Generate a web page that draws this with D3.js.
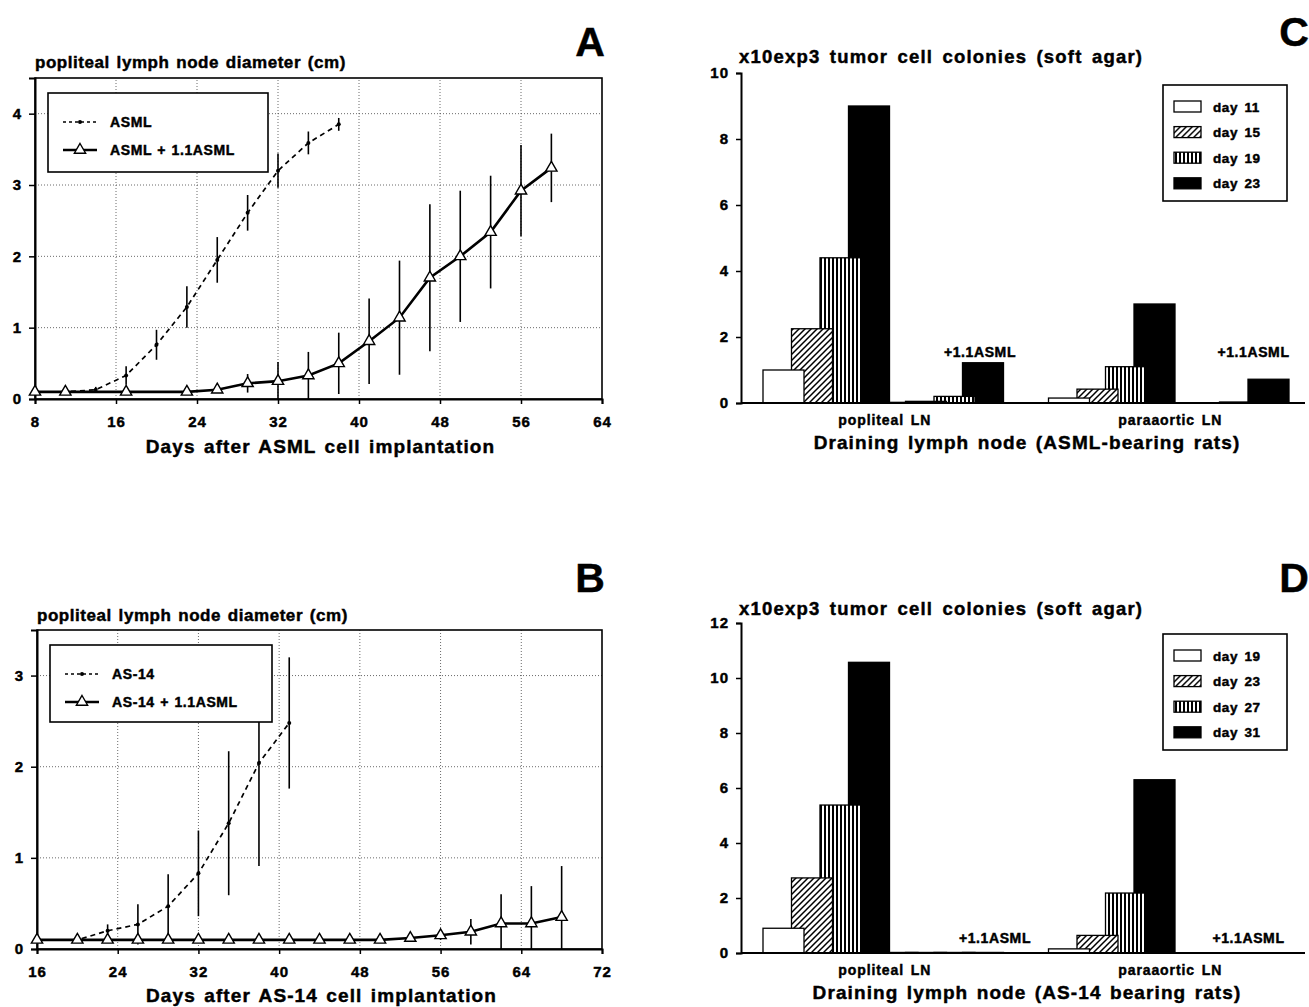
<!DOCTYPE html>
<html lang="en">
<head>
<meta charset="UTF-8">
<title>Lymph node growth and tumor cell colonies</title>
<script src="https://d3js.org/d3.v7.min.js"></script>
<style>
  body { margin: 0; background: #fff; }
  svg text { font-family: "Liberation Sans", Arial, Helvetica, sans-serif; font-weight: bold; fill: #000;
             stroke: #000; stroke-width: 0.45px; }
</style>
</head>
<body>
<div id="chart"></div>
<script>
// ---- panel A: ASML-bearing rats, popliteal node diameter (cm)
const aDays = [8, 11, 14, 17, 20, 23, 26, 29, 32, 35, 38];
const aMean = [0.1, 0.1, 0.13, 0.33, 0.76, 1.29, 1.95, 2.61, 3.2, 3.59, 3.85];
const aErr  = [0, 0, 0.04, 0.13, 0.21, 0.29, 0.32, 0.25, 0.24, 0.16, 0.09];
const aComboDays = [8, 11, 17, 23, 26, 29, 32, 35, 38, 41, 44, 47, 50, 53, 56, 59];
const aComboMean = [0.1, 0.1, 0.1, 0.1, 0.13, 0.22, 0.25, 0.33, 0.5, 0.81, 1.14, 1.7, 2.0, 2.34, 2.92, 3.24];
const aComboErr  = [0, 0, 0, 0, 0.03, 0.13, 0.27, 0.33, 0.43, 0.6, 0.8, 1.03, 0.92, 0.79, 0.64, 0.48];
const aXTicks = [8, 16, 24, 32, 40, 48, 56, 64];
const aYTicks = [0, 1, 2, 3, 4];

// ---- panel B: AS-14-bearing rats
const bDays = [16, 20, 23, 26, 29, 32, 35, 38, 41];
const bMean = [0.1, 0.1, 0.2, 0.27, 0.47, 0.83, 1.38, 2.04, 2.48];
const bErr  = [0, 0, 0.07, 0.22, 0.35, 0.47, 0.79, 1.13, 0.72];
const bComboDays = [16, 20, 23, 26, 29, 32, 35, 38, 41, 44, 47, 50, 53, 56, 59, 62, 65, 68];
const bComboMean = [0.1, 0.1, 0.1, 0.1, 0.1, 0.1, 0.1, 0.1, 0.1, 0.1, 0.1, 0.1, 0.12, 0.15, 0.19, 0.28, 0.28, 0.35];
const bComboErr  = [0, 0, 0, 0, 0, 0, 0, 0, 0, 0, 0, 0, 0.02, 0.05, 0.14, 0.32, 0.41, 0.56];
const bXTicks = [16, 24, 32, 40, 48, 56, 64, 72];
const bYTicks = [0, 1, 2, 3];

// ---- panels C and D: tumor cell colonies (x10^3)
const nodeNames = ["popliteal LN", "paraaortic LN"];
const treatments = ["control", "+1.1ASML"];
const cDays = ["day 11", "day 15", "day 19", "day 23"];
const cPopCtrl  = [1.0, 2.25, 4.4, 9.0];
const cPopAsml  = [0.02, 0.05, 0.2, 1.22];
const cParaCtrl = [0.15, 0.42, 1.1, 3.0];
const cParaAsml = [0, 0.01, 0.03, 0.72];
const cYTicks = [0, 2, 4, 6, 8, 10];

const dDays = ["day 19", "day 23", "day 27", "day 31"];
const dPopCtrl  = [0.9, 2.73, 5.38, 10.57];
const dPopAsml  = [0.02, 0.02, 0.02, 0.02];
const dParaCtrl = [0.15, 0.64, 2.18, 6.3];
const dParaAsml = [0.01, 0.01, 0.01, 0.01];
const dYTicks = [0, 2, 4, 6, 8, 10, 12];

const width = 1309, height = 1007;
const svg = d3.select('#chart').append('svg')
    .attr('width', width)
    .attr('height', height);

// fill patterns
const defs = svg.append('defs');
const hatch = defs.append('pattern').attr('id', 'hatch')
    .attr('patternUnits', 'userSpaceOnUse').attr('width', 6).attr('height', 6);
hatch.append('rect').attr('width', 6).attr('height', 6).attr('fill', '#fff');
hatch.append('path').attr('d', 'M-1,1 L1,-1 M0,6 L6,0 M5,7 L7,5')
    .attr('stroke', '#000').attr('stroke-width', 1.5);
const vstripe = defs.append('pattern').attr('id', 'vstripe')
    .attr('patternUnits', 'userSpaceOnUse').attr('width', 4).attr('height', 4);
vstripe.append('rect').attr('width', 4).attr('height', 4).attr('fill', '#fff');
vstripe.append('rect').attr('width', 2).attr('height', 4).attr('fill', '#000');
const dayFills = ['#fff', 'url(#hatch)', 'url(#vstripe)', '#000'];

function styleAxis(sel) {
    sel.attr('font-size', 15);
    sel.selectAll('.tick text').attr('letter-spacing', 1);
    sel.select('.domain').attr('stroke-width', 2);
    sel.selectAll('.tick line').attr('stroke-width', 1.5);
}

// wide, heavy lettering like the scanned original
function wide(sel, size, ls, ws) {
    return sel.attr('font-size', size).attr('letter-spacing', ls).attr('word-spacing', ws);
}

function drawLinePanel(cfg) {
    const g = svg.append('g');
    const x = d3.scaleLinear().domain(cfg.xDomain).range(cfg.xRange);
    const y = d3.scaleLinear().domain(cfg.yDomain).range(cfg.yRange);

    // dotted grid
    g.append('g').selectAll('line').data(cfg.xTicks.slice(1, -1)).join('line')
        .attr('x1', d => x(d)).attr('x2', d => x(d))
        .attr('y1', y.range()[0]).attr('y2', y.range()[1])
        .attr('stroke', '#444').attr('stroke-width', 0.8).attr('stroke-dasharray', '1,2');
    g.append('g').selectAll('line').data(cfg.yTicks.slice(1)).join('line')
        .attr('x1', x.range()[0]).attr('x2', x.range()[1])
        .attr('y1', d => y(d)).attr('y2', d => y(d))
        .attr('stroke', '#444').attr('stroke-width', 0.8).attr('stroke-dasharray', '1,2');

    g.append('rect')
        .attr('x', x.range()[0]).attr('y', y.range()[1])
        .attr('width', x.range()[1] - x.range()[0])
        .attr('height', y.range()[0] - y.range()[1])
        .attr('fill', 'none').attr('stroke', '#000').attr('stroke-width', 1.6);

    g.append('g').attr('transform', `translate(0,${y(0)})`)
        .call(d3.axisBottom(x).tickValues(cfg.xTicks).tickFormat(d3.format('d')).tickSize(5).tickPadding(12))
        .call(styleAxis);
    g.append('g').attr('transform', `translate(${x.range()[0]},0)`)
        .call(d3.axisLeft(y).tickValues(cfg.yTicks).tickFormat(d3.format('d')).tickSize(6).tickPadding(7))
        .call(styleAxis);

    const s1 = cfg.days.map((d, i) => ({ x: d, m: cfg.mean[i], e: cfg.err[i] }));
    const s2 = cfg.comboDays.map((d, i) => ({ x: d, m: cfg.comboMean[i], e: cfg.comboErr[i] }));
    const line = d3.line().x(d => x(d.x)).y(d => y(d.m));

    // error bars
    [s1, s2].forEach(s => {
        g.append('g').selectAll('line').data(s.filter(d => d.e > 0)).join('line')
            .attr('x1', d => x(d.x)).attr('x2', d => x(d.x))
            .attr('y1', d => y(Math.max(0, d.m - d.e))).attr('y2', d => y(d.m + d.e))
            .attr('stroke', '#000').attr('stroke-width', 1.6);
    });

    // dashed series with dots
    g.append('path').datum(s1).attr('d', line)
        .attr('fill', 'none').attr('stroke', '#000').attr('stroke-width', 1.7)
        .attr('stroke-dasharray', '5,4');
    g.append('g').selectAll('circle').data(s1).join('circle')
        .attr('cx', d => x(d.x)).attr('cy', d => y(d.m)).attr('r', 2).attr('fill', '#000');

    // solid series with open triangles
    g.append('path').datum(s2).attr('d', line)
        .attr('fill', 'none').attr('stroke', '#000').attr('stroke-width', 2.6);
    const tri = d3.symbol(d3.symbolTriangle).size(55);
    g.append('g').selectAll('path').data(s2).join('path')
        .attr('d', tri)
        .attr('transform', d => `translate(${x(d.x)},${y(d.m)})`)
        .attr('fill', '#fff').attr('stroke', '#000').attr('stroke-width', 1.4);

    // legend
    const L = cfg.legend;
    const lg = g.append('g').attr('transform', `translate(${L.x},${L.y})`);
    lg.append('rect').attr('width', L.w).attr('height', L.h)
        .attr('fill', '#fff').attr('stroke', '#000').attr('stroke-width', 1.6);
    lg.append('line').attr('x1', 15).attr('x2', 49).attr('y1', 29).attr('y2', 29)
        .attr('stroke', '#000').attr('stroke-width', 1.5).attr('stroke-dasharray', '3,3');
    lg.append('circle').attr('cx', 32).attr('cy', 29).attr('r', 2).attr('fill', '#000');
    lg.append('text').attr('x', 62).attr('y', 34).call(wide, 14, 0.6, 1).text(L.labels[0]);
    lg.append('line').attr('x1', 15).attr('x2', 49).attr('y1', 57).attr('y2', 57)
        .attr('stroke', '#000').attr('stroke-width', 2.6);
    lg.append('path').attr('d', tri).attr('transform', 'translate(32,57)')
        .attr('fill', '#fff').attr('stroke', '#000').attr('stroke-width', 1.4);
    lg.append('text').attr('x', 62).attr('y', 62).call(wide, 14, 0.6, 1).text(L.labels[1]);

    g.append('text').attr('x', x.range()[0]).attr('y', cfg.titleY)
        .call(wide, 17, 0.55, 1.5).text('popliteal lymph node diameter (cm)');
    g.append('text').attr('x', (x.range()[0] + x.range()[1]) / 2 + 2).attr('y', cfg.xLabelY)
        .attr('text-anchor', 'middle').call(wide, 19, 1.1, 2).text(cfg.xLabel);
    g.append('text').attr('x', cfg.letter[0]).attr('y', cfg.letter[1])
        .attr('text-anchor', 'middle').attr('font-size', 41).text(cfg.letter[2]);
}

function drawBarPanel(cfg) {
    const g = svg.append('g');
    const y = d3.scaleLinear().domain([0, cfg.yTicks[cfg.yTicks.length - 1]]).range(cfg.yRange);
    const xNode = d3.scaleBand().domain(nodeNames).range([742, 1313]);
    const xTreat = d3.scaleBand().domain(treatments).range([21, 249]);
    const xDay = d3.scaleLinear().domain([0, 3]).range([0, 85.5]);
    const barW = 41;

    const groups = [
        { node: nodeNames[0], treat: treatments[0], vals: cfg.popCtrl },
        { node: nodeNames[0], treat: treatments[1], vals: cfg.popAsml },
        { node: nodeNames[1], treat: treatments[0], vals: cfg.paraCtrl },
        { node: nodeNames[1], treat: treatments[1], vals: cfg.paraAsml }
    ];
    const bars = [];
    groups.forEach(gr => {
        // later days drawn first so earlier days sit in front
        for (let i = 3; i >= 0; i--) {
            bars.push({ x0: xNode(gr.node) + xTreat(gr.treat) + xDay(i), v: gr.vals[i], i: i });
        }
    });
    g.append('g').selectAll('rect').data(bars).join('rect')
        .attr('x', d => d.x0).attr('width', barW)
        .attr('y', d => y(d.v)).attr('height', d => y(0) - y(d.v))
        .attr('fill', d => dayFills[d.i])
        .attr('stroke', '#000').attr('stroke-width', 1.3);

    // baseline and y axis
    g.append('line').attr('x1', 741).attr('x2', 1305).attr('y1', y(0)).attr('y2', y(0))
        .attr('stroke', '#000').attr('stroke-width', 2);
    g.append('g').attr('transform', 'translate(741,0)')
        .call(d3.axisLeft(y).tickValues(cfg.yTicks).tickSize(5).tickPadding(7))
        .call(styleAxis);

    // "+1.1ASML" notes
    g.append('g').selectAll('text').data(nodeNames).join('text')
        .attr('x', (d, i) => xNode(d) + xTreat(treatments[1]) + cfg.noteDx[i])
        .attr('y', y(cfg.noteY))
        .attr('text-anchor', 'middle').call(wide, 14, 0.6, 0).text('+1.1ASML');

    // category labels
    g.append('g').selectAll('text').data(nodeNames).join('text')
        .attr('x', d => xNode(d) + xNode.bandwidth() / 2)
        .attr('y', cfg.catY)
        .attr('text-anchor', 'middle').call(wide, 14, 0.9, 2).text(d => d);

    g.append('text').attr('x', 1027).attr('y', cfg.xLabelY)
        .attr('text-anchor', 'middle').call(wide, 19, 1.1, 2).text(cfg.xLabel);
    g.append('text').attr('x', 739).attr('y', cfg.titleY)
        .call(wide, 18.5, 1.2, 3).text('x10exp3 tumor cell colonies (soft agar)');
    g.append('text').attr('x', cfg.letter[0]).attr('y', cfg.letter[1])
        .attr('text-anchor', 'middle').attr('font-size', 41).text(cfg.letter[2]);

    // legend
    const lg = g.append('g').attr('transform', `translate(1163,${cfg.legendY})`);
    lg.append('rect').attr('width', 124).attr('height', 116)
        .attr('fill', '#fff').attr('stroke', '#000').attr('stroke-width', 1.6);
    const rows = lg.selectAll('g').data(cfg.days).join('g')
        .attr('transform', (d, i) => `translate(0,${21.5 + i * 25.6})`);
    rows.append('rect').attr('x', 11).attr('y', -5.5).attr('width', 27).attr('height', 11)
        .attr('fill', (d, i) => dayFills[i]).attr('stroke', '#000').attr('stroke-width', 1.3);
    rows.append('text').attr('x', 50).attr('y', 5).call(wide, 13.5, 0.6, 2).text(d => d);
}

drawLinePanel({
    xDomain: [8, 64], xRange: [35, 602], yDomain: [0, 4.5], yRange: [399, 78],
    xTicks: aXTicks, yTicks: aYTicks,
    days: aDays, mean: aMean, err: aErr,
    comboDays: aComboDays, comboMean: aComboMean, comboErr: aComboErr,
    legend: { x: 48, y: 93, w: 220, h: 79, labels: ['ASML', 'ASML + 1.1ASML'] },
    titleY: 68, xLabel: 'Days after ASML cell implantation', xLabelY: 453,
    letter: [590, 56, 'A']
});

drawLinePanel({
    xDomain: [16, 72], xRange: [37, 602], yDomain: [0, 3.5], yRange: [949, 630],
    xTicks: bXTicks, yTicks: bYTicks,
    days: bDays, mean: bMean, err: bErr,
    comboDays: bComboDays, comboMean: bComboMean, comboErr: bComboErr,
    legend: { x: 50, y: 645, w: 222, h: 77, labels: ['AS-14', 'AS-14 + 1.1ASML'] },
    titleY: 621, xLabel: 'Days after AS-14 cell implantation', xLabelY: 1002,
    letter: [590, 592, 'B']
});

drawBarPanel({
    yTicks: cYTicks, yRange: [403, 73], days: cDays,
    popCtrl: cPopCtrl, popAsml: cPopAsml, paraCtrl: cParaCtrl, paraAsml: cParaAsml,
    noteDx: [103, 91], noteY: 1.4, catY: 425, xLabelY: 449, titleY: 63,
    xLabel: 'Draining lymph node (ASML-bearing rats)',
    legendY: 85, letter: [1294, 46, 'C']
});

drawBarPanel({
    yTicks: dYTicks, yRange: [953, 623], days: dDays,
    popCtrl: dPopCtrl, popAsml: dPopAsml, paraCtrl: dParaCtrl, paraAsml: dParaAsml,
    noteDx: [118, 86], noteY: 0.36, catY: 975, xLabelY: 999, titleY: 615,
    xLabel: 'Draining lymph node (AS-14 bearing rats)',
    legendY: 634, letter: [1294, 592, 'D']
});
</script>
</body>
</html>
